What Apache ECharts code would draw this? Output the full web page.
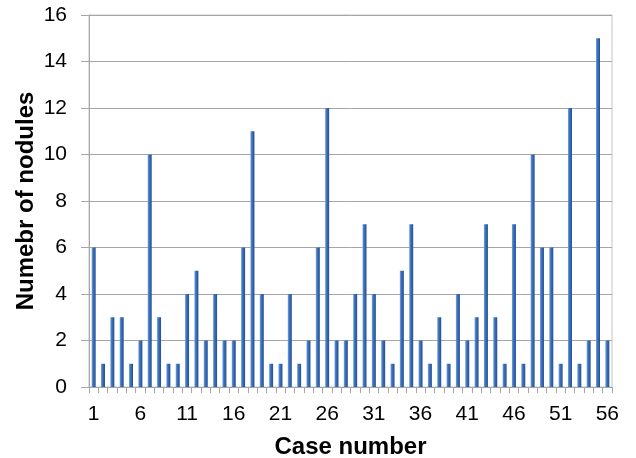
<!DOCTYPE html>
<html>
<head>
<meta charset="utf-8">
<script src="https://cdn.jsdelivr.net/npm/echarts@6/dist/echarts.min.js"></script>
<style>
html,body{margin:0;padding:0;background:#fff;}
#c{width:636px;height:458px;}
</style>
</head>
<body>
<div id="c"></div>
<script>
var caseNumbers = [];
for (var i = 1; i <= 56; i++) caseNumbers.push(String(i));
var noduleCounts = [6,1,3,3,1,2,10,3,1,1,4,5,2,4,2,2,6,11,4,1,1,4,1,2,6,12,2,2,4,7,4,2,1,5,7,2,1,3,1,4,2,3,7,3,1,7,1,10,6,6,1,12,1,2,15,2];
var yTicks = {min: 0, max: 16, interval: 2};
var xTitle = 'Case number';
var yTitle = 'Numebr of nodules';

var chart = echarts.init(document.getElementById('c'), null, {renderer: 'canvas'});
chart.setOption({
  animation: false,
  backgroundColor: '#ffffff',
  grid: {left: 89, right: 24, top: 15, bottom: 71, containLabel: false, outerBoundsMode: 'none', show: true, borderColor: '#c4c4c4', borderWidth: 1},
  xAxis: {
    type: 'category',
    data: caseNumbers,
    boundaryGap: true,
    name: xTitle,
    nameLocation: 'middle',
    nameGap: 48,
    nameMoveOverlap: false,
    nameTextStyle: {fontFamily: 'Liberation Sans', fontWeight: 'bold', fontSize: 24, color: '#000'},
    axisLine: {lineStyle: {color: '#a6a6a6', width: 1}},
    axisTick: {show: true, interval: 0, length: 6, lineStyle: {color: '#a6a6a6'}},
    axisLabel: {interval: 4, margin: 17, fontFamily: 'Liberation Sans', fontSize: 21, color: '#000'},
    splitLine: {show: false}
  },
  yAxis: {
    type: 'value',
    min: yTicks.min, max: yTicks.max, interval: yTicks.interval,
    name: yTitle,
    nameLocation: 'middle',
    nameGap: 51,
    nameMoveOverlap: false,
    nameRotate: 90,
    nameTextStyle: {fontFamily: 'Liberation Sans', fontWeight: 'bold', fontSize: 24, color: '#000'},
    axisLine: {show: true, lineStyle: {color: '#a6a6a6', width: 1}},
    axisTick: {show: true, length: 8, lineStyle: {color: '#a6a6a6'}},
    axisLabel: {margin: 22, fontFamily: 'Liberation Sans', fontSize: 21, color: '#000'},
    splitLine: {show: true, lineStyle: {color: '#a6a6a6', width: 1}}
  },
  series: [{
    type: 'bar',
    data: noduleCounts,
    barWidth: 4,
    itemStyle: {
      color: new echarts.graphic.LinearGradient(0, 0, 1, 0, [
        {offset: 0, color: '#7aa7e3'},
        {offset: 0.35, color: '#3f74c0'},
        {offset: 1, color: '#234f8f'}
      ])
    }
  }]
});
</script>
</body>
</html>
